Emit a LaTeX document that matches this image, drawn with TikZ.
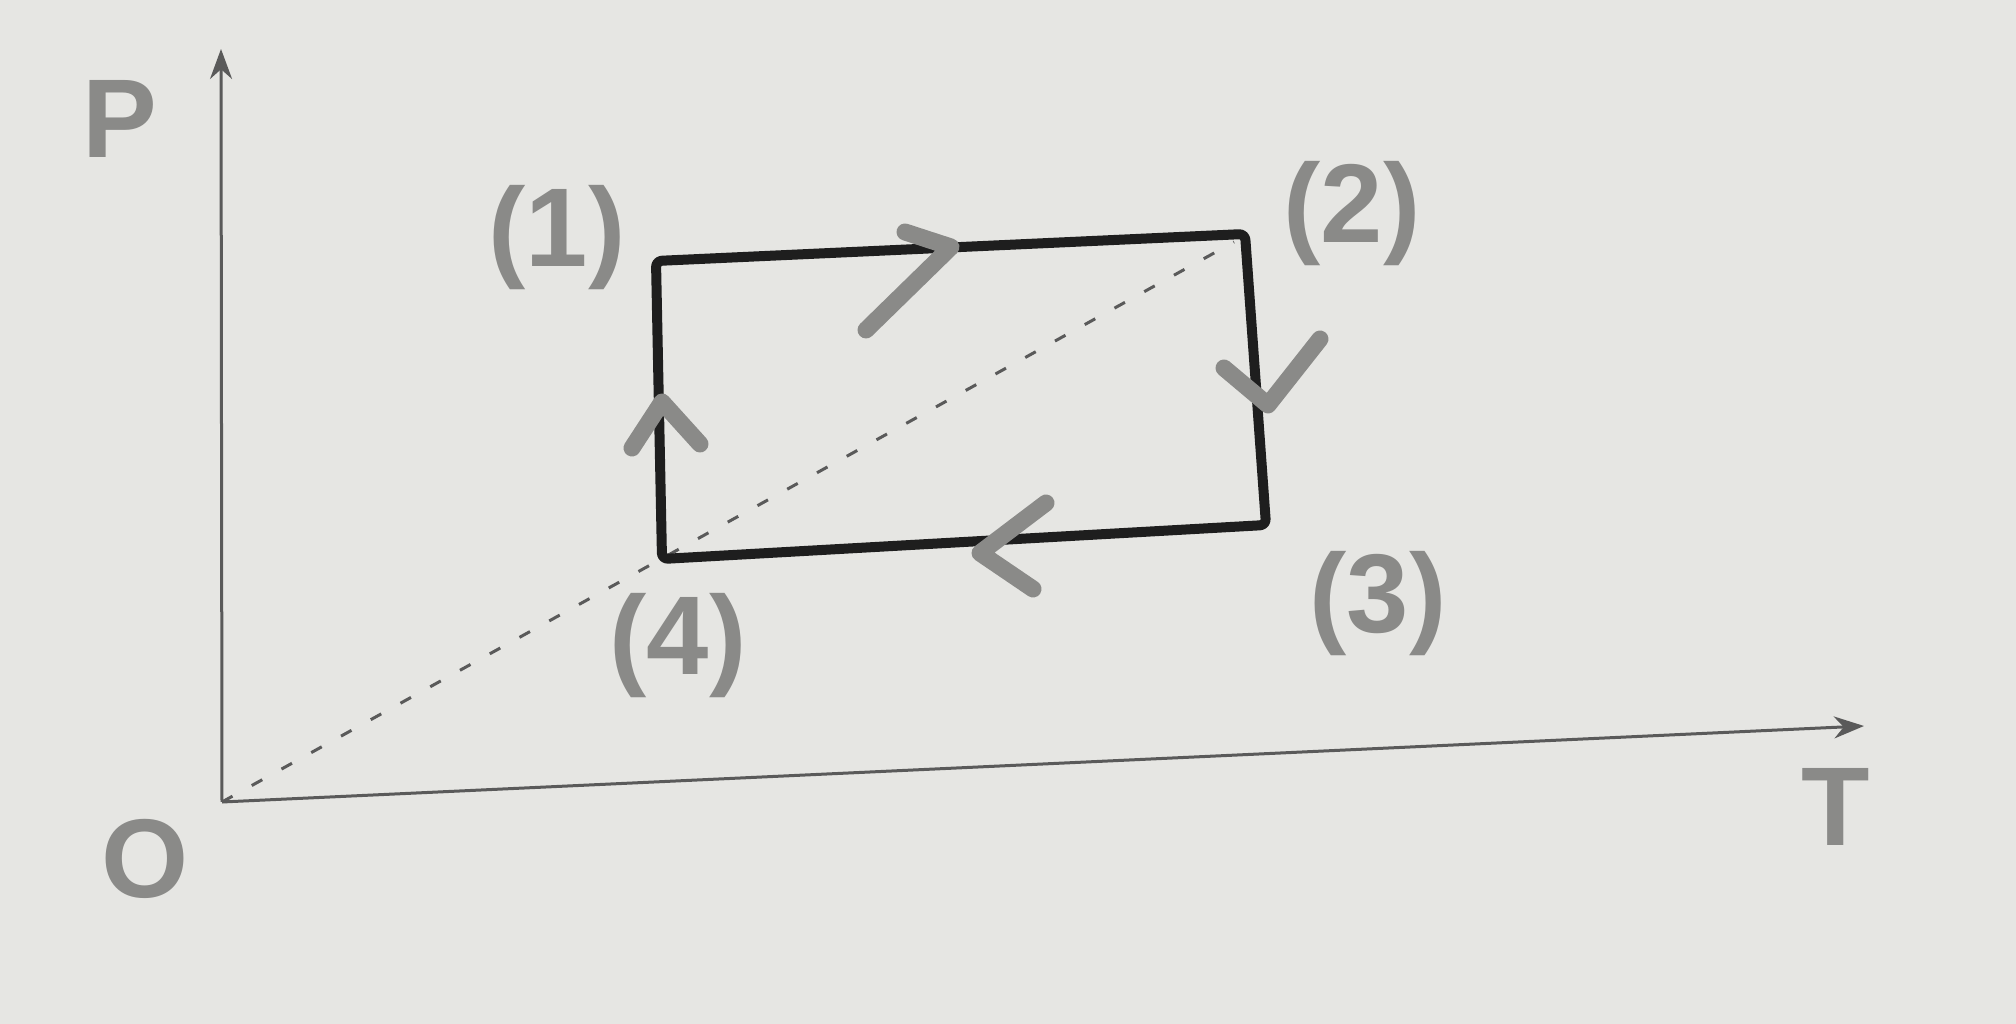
\documentclass[tikz,border=0pt]{standalone}
\usepackage{fontspec}
\setmainfont{Liberation Sans}
\usetikzlibrary{arrows.meta}
\definecolor{paper}{HTML}{E6E6E3}
\definecolor{pencil}{HTML}{8A8A88}
\definecolor{ink}{HTML}{1E1E1E}
\definecolor{axisgray}{HTML}{5A5A5A}
\tikzset{
  lbl/.style={text=pencil, font=\fontsize{112}{120}\selectfont\bfseries, inner sep=0pt},
  axisline/.style={draw=axisgray, line width=3pt, -{Stealth[length=30pt,width=22pt]}},
  cycle/.style={draw=ink, line width=10pt, rounded corners=6pt, line join=round},
  chev/.style={draw=pencil, line width=17pt, line cap=round, line join=round},
  diag/.style={draw=axisgray, line width=3pt, dash pattern=on 12pt off 22pt}
}
\begin{document}
\begin{tikzpicture}[x=1pt,y=1pt]
\useasboundingbox (0,0) rectangle (2016,1024);
\fill[paper] (0,0) rectangle (2016,1024);
% axes
\coordinate (O) at (222,222);
\coordinate (Ptop) at (221,975);
\coordinate (Tend) at (1864,298);
\draw[axisline] (O) -- (Ptop);
\draw[axisline] (O) -- (Tend);
% cycle corners
\coordinate (c1) at (656,763);
\coordinate (c2) at (1245,790);
\coordinate (c3) at (1266,499);
\coordinate (c4) at (662,465);
\coordinate (dend) at (1234,782);
\draw[diag] (O) -- (dend);
\draw[cycle] (c1) -- (c2) -- (c3) -- (c4) -- cycle;
% direction chevrons
\coordinate (a1t) at (951,777);
\coordinate (a1s) at (905,792);
\coordinate (a1l) at (866,694);
\draw[chev] (a1s) -- (a1t) -- (a1l);
\coordinate (a2t) at (1268,619);
\coordinate (a2s) at (1224,656);
\coordinate (a2l) at (1320,685);
\draw[chev] (a2s) -- (a2t) -- (a2l);
\coordinate (a3t) at (980,471);
\coordinate (a3s) at (1046,521);
\coordinate (a3l) at (1033,435);
\draw[chev] (a3s) -- (a3t) -- (a3l);
\coordinate (a4t) at (662,622);
\coordinate (a4s) at (632,576);
\coordinate (a4l) at (700,580);
\draw[chev] (a4s) -- (a4t) -- (a4l);
% labels
\node[lbl] (lP) at (120,905) {P};
\node[lbl] (lO) at (145,165) {O};
\node[lbl] (lT) at (1836,217) {T};
\node[lbl] (l1) at (557,786) {(1)};
\node[lbl] (l2) at (1352,810) {(2)};
\node[lbl] (l3) at (1378,420) {(3)};
\node[lbl] (l4) at (678,378) {(4)};
\end{tikzpicture}
\end{document}
